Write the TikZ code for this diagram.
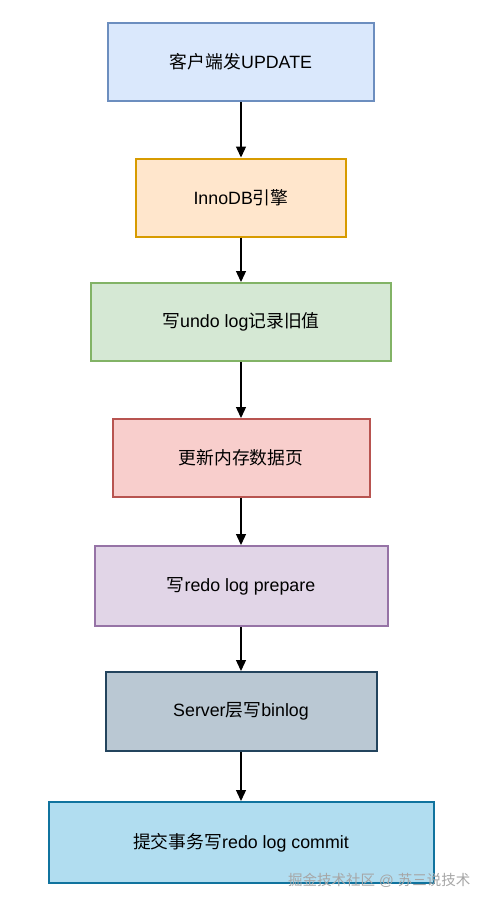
\documentclass[tikz,border=0pt]{standalone}
\usepackage{fontspec}
\setmainfont{Liberation Sans}
\newfontfamily\cjk{Noto Sans CJK SC}
\usetikzlibrary{arrows.meta, positioning}
\definecolor{bluefill}{HTML}{DAE8FC}
\definecolor{blueline}{HTML}{6C8EBF}
\definecolor{orangefill}{HTML}{FFE6CC}
\definecolor{orangeline}{HTML}{D79B00}
\definecolor{greenfill}{HTML}{D5E8D4}
\definecolor{greenline}{HTML}{82B366}
\definecolor{redfill}{HTML}{F8CECC}
\definecolor{redline}{HTML}{B85450}
\definecolor{purplefill}{HTML}{E1D5E7}
\definecolor{purpleline}{HTML}{9673A6}
\definecolor{slatefill}{HTML}{BAC8D3}
\definecolor{slateline}{HTML}{23445D}
\definecolor{cyanfill}{HTML}{B1DDF0}
\definecolor{cyanline}{HTML}{10739E}

\begin{document}
\begin{tikzpicture}[x=1pt, y=-1pt,
  stage/.style={draw, line width=2pt, minimum height=78pt,
                font=\fontsize{17.8}{21}\selectfont},
  flow/.style={-{Triangle[length=11pt, width=10pt]}, line width=1.3pt}]
  \useasboundingbox (0,0) rectangle (490,906);

  % Steps of the update
  \node[stage, fill=bluefill, draw=blueline, minimum width=266pt] (client) at (241,62)
    {{\cjk 客户端发}UPDATE};
  \node[stage, fill=orangefill, draw=orangeline, minimum width=210pt] (innodb) at (241,197.5)
    {InnoDB{\cjk 引擎}};
  \node[stage, fill=greenfill, draw=greenline, minimum width=300pt] (undo) at (241,322)
    {{\cjk 写}undo log{\cjk 记录旧值}};
  \node[stage, fill=redfill, draw=redline, minimum width=257pt] (page) at (241,458)
    {\cjk 更新内存数据页};
  \node[stage, fill=purplefill, draw=purpleline, minimum width=293pt, minimum height=80pt] (prepare) at (241,586)
    {{\cjk 写}redo log prepare};
  \node[stage, fill=slatefill, draw=slateline, minimum width=271pt, minimum height=79pt] (binlog) at (241,711.5)
    {Server{\cjk 层写}binlog};
  \node[stage, fill=cyanfill, draw=cyanline, minimum width=385pt, minimum height=81pt] (commit) at (241,842.5)
    {{\cjk 提交事务写}redo log commit};

  % Arrows
  \draw[flow] (client) -- (innodb);
  \draw[flow] (innodb) -- (undo);
  \draw[flow] (undo) -- (page);
  \draw[flow] (page) -- (prepare);
  \draw[flow] (prepare) -- (binlog);
  \draw[flow] (binlog) -- (commit);

  % Watermark
  \node[anchor=east, text=black!35, font=\fontsize{14.5}{16}\selectfont] (mark) at (474,880)
    {{\cjk 掘金技术社区} @ {\cjk 苏三说技术}};
\end{tikzpicture}
\end{document}
